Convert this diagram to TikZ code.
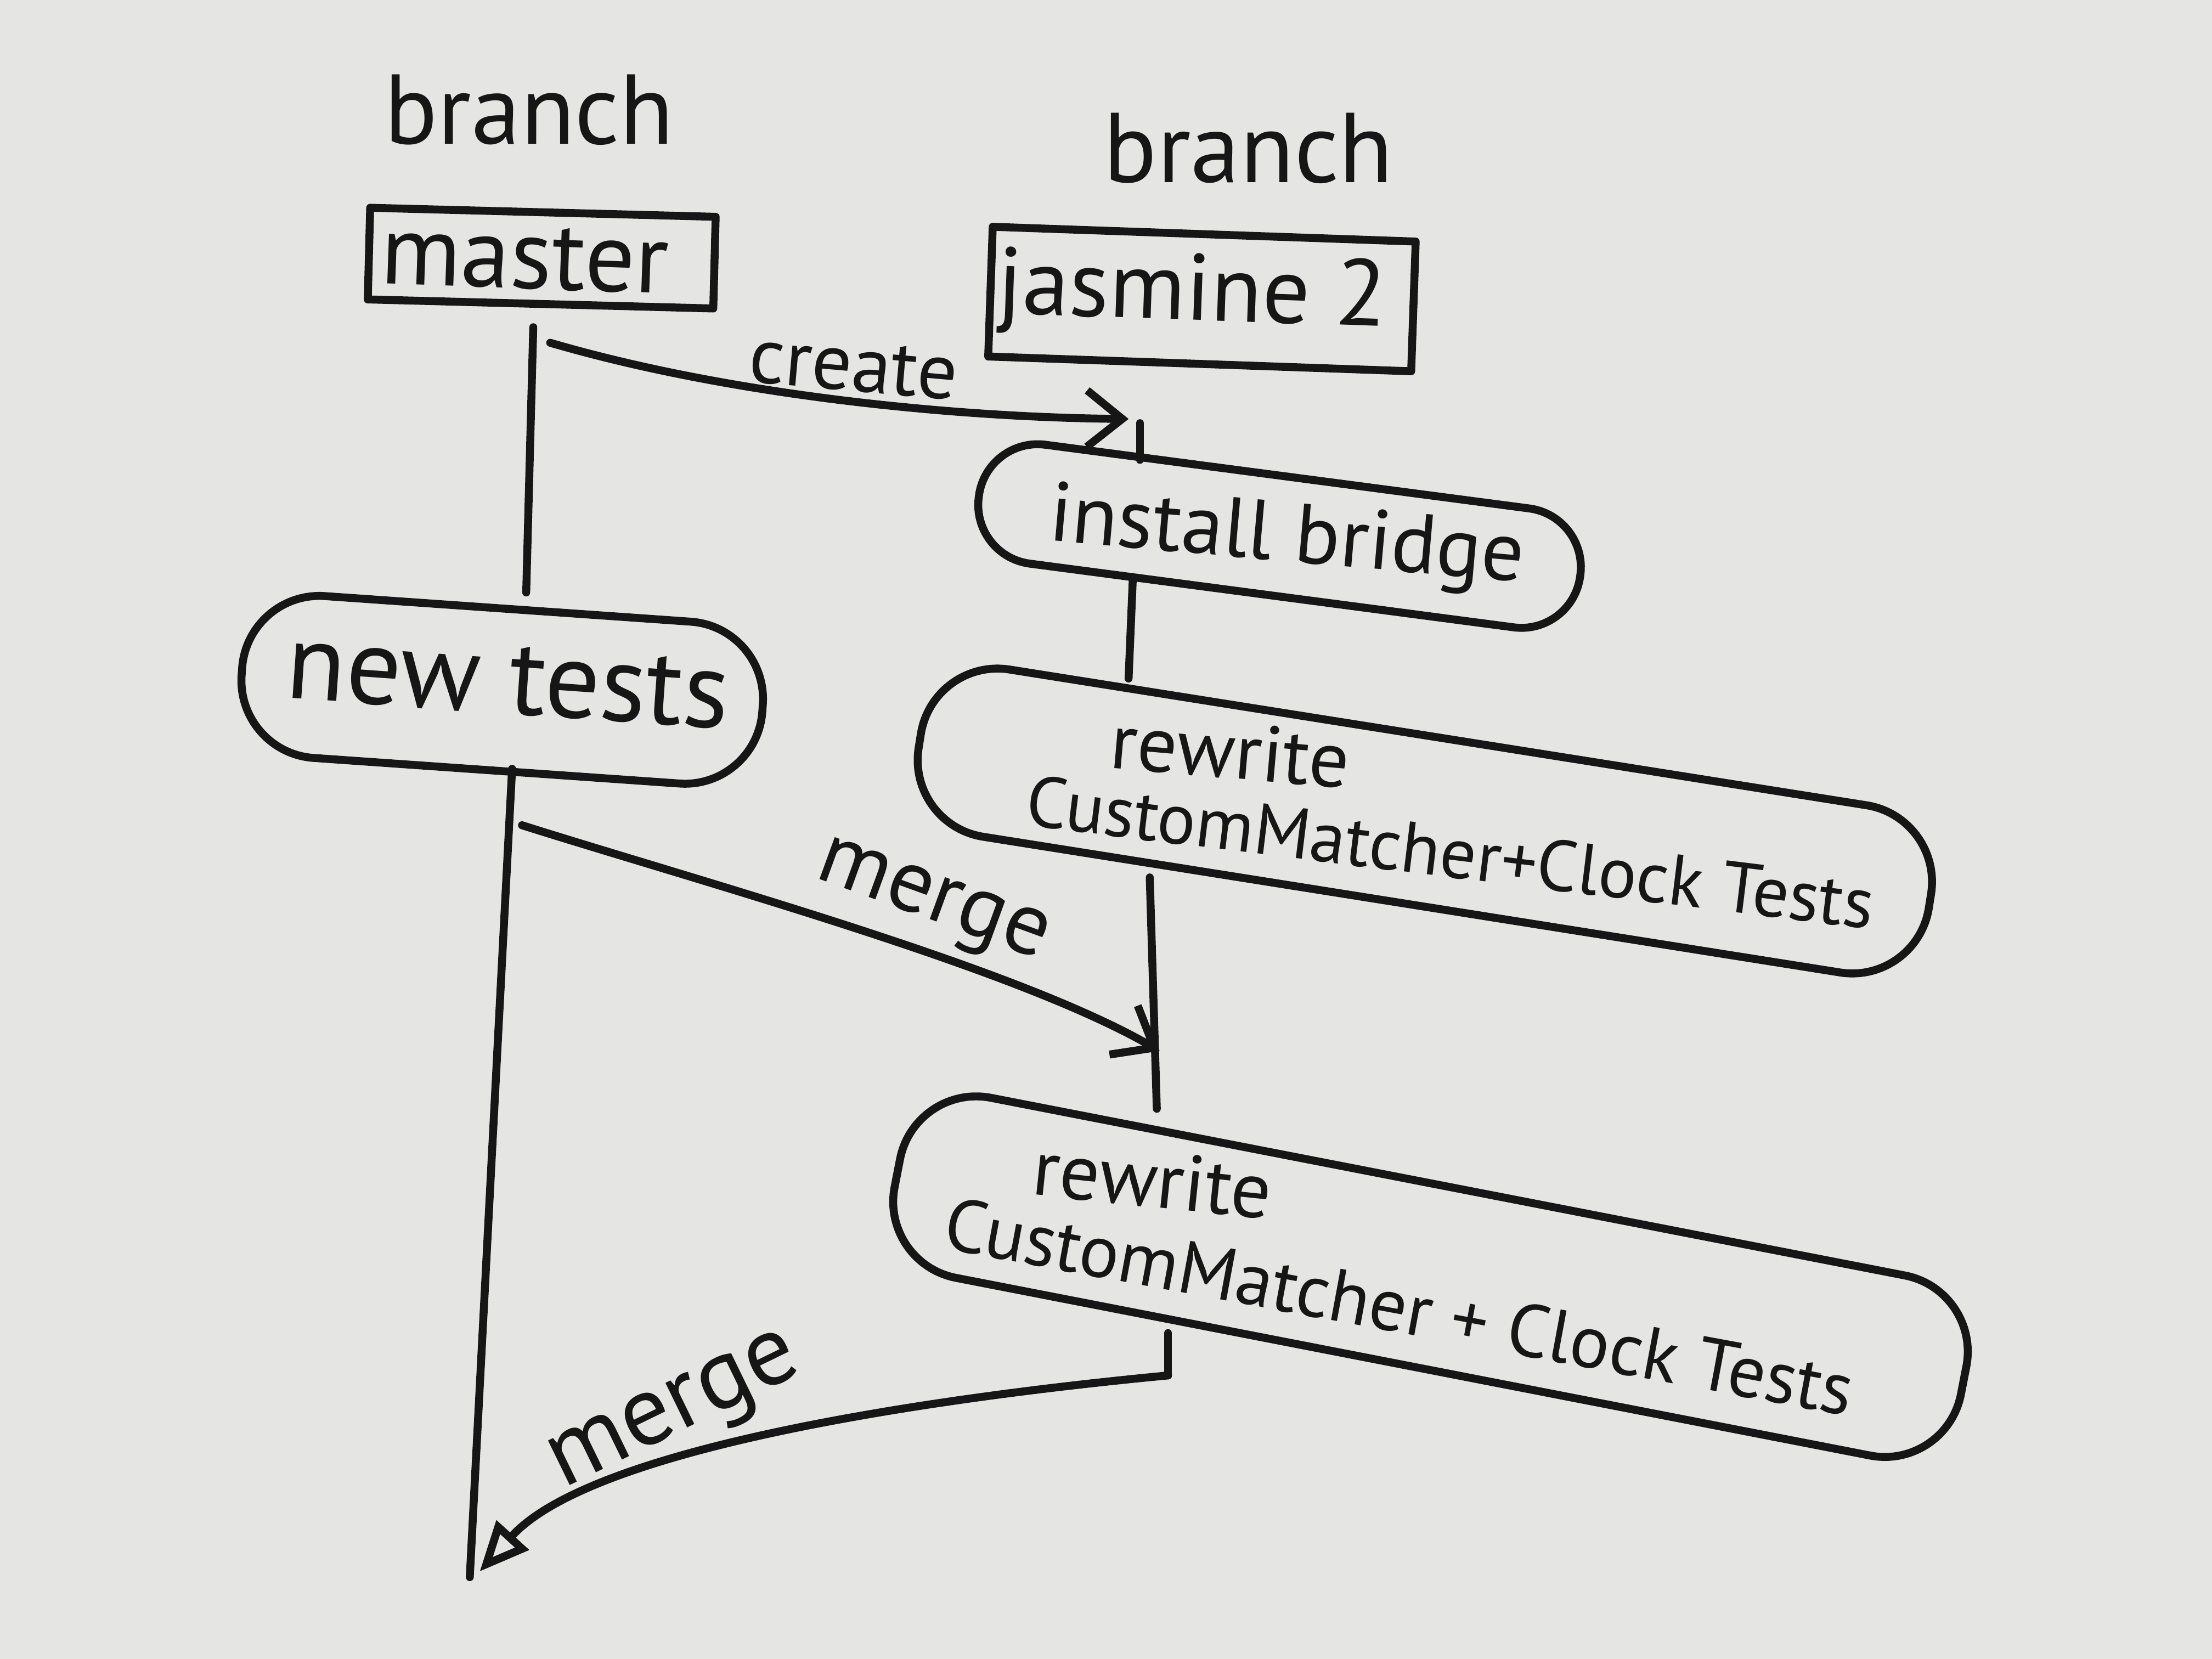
\documentclass[tikz,border=0pt]{standalone}
\usepackage{fontspec}
\setmainfont{PT Sans}
\usetikzlibrary{shapes.geometric,arrows.meta,calc}
\definecolor{board}{RGB}{229,230,228}
\definecolor{ink}{RGB}{22,22,22}
\begin{document}
\begin{tikzpicture}[
  inkline/.style={draw=ink, line width=1.6pt, line cap=round, line join=round},
  lbl/.style={text=ink, inner sep=1pt, font=\fontsize{20}{22}\selectfont},
  txt/.style={text=ink, inner sep=1pt, font=\fontsize{16}{18}\selectfont},
  bubble/.style={inkline, rectangle, rounded corners=0.55cm, inner sep=0pt},
  boxnode/.style={inkline, rectangle, inner sep=0pt},
  barb/.style={-{Straight Barb[length=2.5mm,width=4mm,line width=1.6pt]}},
  opentri/.style={-{Triangle[open,length=3.5mm,width=3mm,line width=1.6pt]}},
]
\fill[board] (0,0) rectangle (15.68,11.76);
\useasboundingbox (0,0) rectangle (15.68,11.76);

% branch labels
\node[lbl] (b1) at (3.75,10.98) {branch};
\node[lbl] (b2) at (8.85,10.71) {branch};

% branch boxes
\node[boxnode, minimum width=2.45cm, minimum height=0.65cm, rotate=-1.5] (master) at (3.84,9.93) {};
\node[lbl, rotate=-2] (mastertxt) at (3.72,9.93) {master};
\node[boxnode, minimum width=3.0cm, minimum height=0.92cm, rotate=-2] (jas) at (8.52,9.64) {};
\node[lbl, font=\fontsize{19}{21}\selectfont, rotate=-2] (jastxt) at (8.45,9.66) {jasmine 2};

% commits
\node[bubble, minimum width=3.7cm, minimum height=1.15cm, rotate=-4] (new) at (3.56,6.87) {};
\node[lbl, font=\fontsize{22}{24}\selectfont, rotate=-4] (newtxt) at (3.60,6.94) {new tests};

\node[bubble, minimum width=4.3cm, minimum height=0.85cm, rounded corners=0.42cm, rotate=-7.5] (inst) at (9.07,7.96) {};
\node[txt, font=\fontsize{17}{19}\selectfont, rotate=-5] (insttxt) at (9.12,7.93) {install bridge};

\node[bubble, minimum width=7.25cm, minimum height=1.2cm, rotate=-9] (rw1) at (10.10,5.94) {};
\node[txt, rotate=-5] (rw1a) at (8.72,6.44) {rewrite};
\node[txt, font=\fontsize{14.5}{17}\selectfont, rotate=-7] (rw1b) at (10.28,5.72) {CustomMatcher+Clock Tests};

\node[bubble, minimum width=7.7cm, minimum height=1.3cm, rotate=-11] (rw2) at (10.14,2.71) {};
\node[txt, rotate=-6] (rw2a) at (8.17,3.40) {rewrite};
\node[txt, font=\fontsize{15}{17}\selectfont, rotate=-10.5] (rw2b) at (9.92,2.50) {CustomMatcher + Clock Tests};

% coordinates for connector ends
\coordinate (mtop) at (3.78,9.44);
\coordinate (mbot) at (3.73,7.56);
\coordinate (cs) at (3.90,9.33);
\coordinate (ct) at (8.00,8.79);
\coordinate (tk1) at (8.08,8.76);
\coordinate (tk2) at (8.08,8.50);
\coordinate (i1) at (8.03,7.66);
\coordinate (r1) at (8.00,6.95);
\coordinate (n1) at (3.63,6.31);
\coordinate (mend) at (3.33,0.58);
\coordinate (m1s) at (3.70,5.91);
\coordinate (m1e) at (8.22,4.31);
\coordinate (j1) at (8.15,5.54);
\coordinate (j2) at (8.20,3.90);
\coordinate (t2a) at (8.28,2.31);
\coordinate (t2b) at (8.28,2.01);
\coordinate (m2e) at (3.40,0.62);

% master branch line
\draw[inkline] (mtop) -- (mbot);
\draw[inkline] (n1) -- (mend);

% create
\draw[inkline, barb] (cs) .. controls (5.2,8.95) and (6.8,8.8) .. (ct);
\node[txt, rotate=-5] (create) at (6.05,9.16) {create};
\draw[inkline] (tk1) -- (tk2);

% jasmine branch line
\draw[inkline] (i1) -- (r1);
\draw[inkline] (j1) -- (j2);

% merge 1
\draw[inkline, barb] (m1s) .. controls (5.0,5.5) and (7.2,4.9) .. (m1e);
\node[lbl, font=\fontsize{18}{20}\selectfont, rotate=-20] (merge1) at (6.60,5.34) {merge};

% merge 2
\draw[inkline] (t2a) -- (t2b);
\draw[inkline, opentri] (t2b) .. controls (6.6,1.85) and (4.2,1.5) .. (m2e);
\node[lbl, rotate=26] (merge2) at (4.80,1.72) {merge};
\end{tikzpicture}
\end{document}
